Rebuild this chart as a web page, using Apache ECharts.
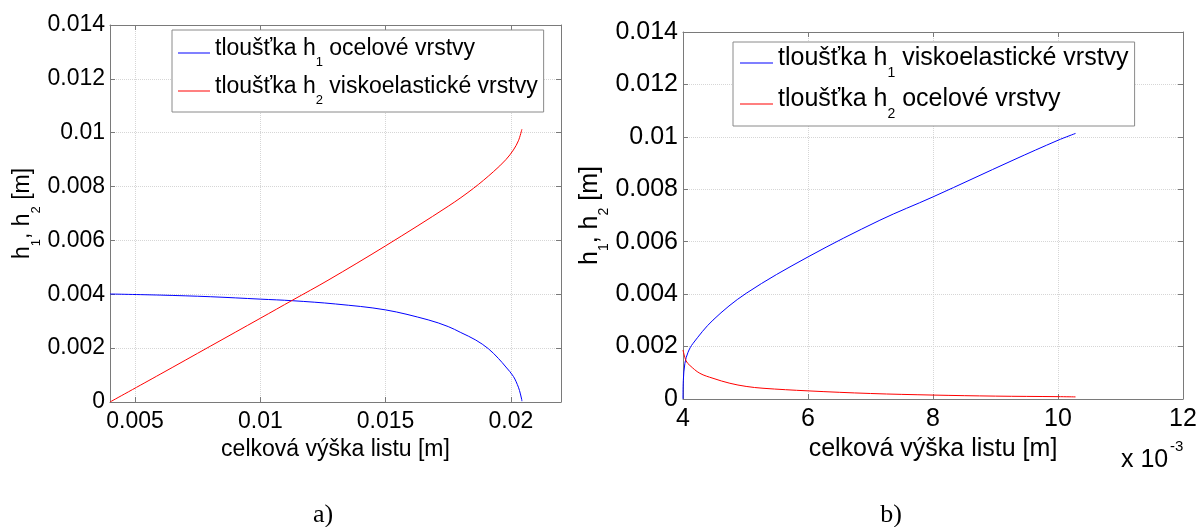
<!DOCTYPE html>
<html>
<head>
<meta charset="utf-8">
<script src="https://cdn.jsdelivr.net/npm/echarts@6/dist/echarts.min.js"></script>
<style>html,body{margin:0;padding:0;background:#fff}#c{width:1199px;height:527px}</style>
</head>
<body>
<div id="c"></div>
<script>
// ---- data ----
// a) left panel: x = celková výška listu [m]
const aH1_x = [0.004, 0.006, 0.008, 0.010, 0.0113, 0.013, 0.015, 0.0167, 0.0175, 0.018, 0.0186, 0.0191, 0.0195, 0.0198, 0.0201, 0.0203, 0.02038, 0.02043, 0.02044];
const aH1_y = [0.00401, 0.00397, 0.00391, 0.00382, 0.00376, 0.00364, 0.00342, 0.00305, 0.00280, 0.00258, 0.00230, 0.00198, 0.00162, 0.00130, 0.00095, 0.00055, 0.00030, 0.00010, 0.00003];
const aH2_x = [0.004, 0.006, 0.008, 0.010, 0.0113, 0.0127, 0.015, 0.0175, 0.0185, 0.0193, 0.0198, 0.0201, 0.0203, 0.02044];
const aH2_y = [0, 0.00103, 0.00207, 0.00311, 0.00379, 0.00452, 0.00580, 0.00727, 0.00793, 0.00855, 0.0090, 0.00936, 0.0097, 0.01013];
// b) right panel
const bH1_x = [0.004, 0.004005, 0.00403, 0.00408, 0.00416, 0.00448, 0.00501, 0.0060, 0.00715, 0.0080, 0.00928, 0.0100, 0.01028];
const bH1_y = [0, 0.0007, 0.00136, 0.00178, 0.00212, 0.00301, 0.00403, 0.00542, 0.00682, 0.00771, 0.00911, 0.00987, 0.01013];
const bH2_x = [0.004, 0.00405, 0.00411, 0.00427, 0.00448, 0.00475, 0.00501, 0.00528, 0.0060, 0.0070, 0.0080, 0.0090, 0.0100, 0.01028];
const bH2_y = [0.00187, 0.00145, 0.00128, 0.00098, 0.00079, 0.00060, 0.00048, 0.00041, 0.00031, 0.00021, 0.00015, 0.00011, 0.00009, 0.00008];

const aXTicks = [0.005, 0.01, 0.015, 0.02];
const yTicksLabel = ['0', '0.002', '0.004', '0.006', '0.008', '0.01', '0.012', '0.014'];
const bXTickLabels = ['4', '6', '8', '10', '12'];

const names = {
  aH1: 'tloušťka h1 ocelové vrstvy',
  aH2: 'tloušťka h2 viskoelastické vrstvy',
  bH1: 'tloušťka h1 viskoelastické vrstvy',
  bH2: 'tloušťka h2 ocelové vrstvy'
};

// ---- styling ----
const FONT = "'Liberation Sans', Arial, Helvetica, sans-serif";
const SERIF = "'Liberation Serif', 'Times New Roman', serif";
const AXC = '#7a7a7a';
const GRIDC = '#d6d6d6';
const BLUE = '#0000ff';
const RED = '#ff0000';

function zip(xs, ys) { return xs.map((x, i) => [x, ys[i]]); }
function richName(name) {
  const m = name.match(/^(.*h)([12])(.*)$/);
  return '{m|' + m[1] + '}{s|' + m[2] + '}{m|' + m[3] + '}';
}
function rich(fs, ss, pad) {
  return {
    m: { fontFamily: FONT, fontSize: fs, lineHeight: fs, verticalAlign: 'top', color: '#000' },
    s: { fontFamily: FONT, fontSize: ss, verticalAlign: 'top', padding: [pad, 0, 0, 0], color: '#000' }
  };
}
function yFmt(v) {
  const i = Math.round(v / 0.002);
  return yTicksLabel[i] !== undefined ? yTicksLabel[i] : '';
}
function aXFmt(v) { return String(parseFloat(v.toFixed(4))); }
function bXFmt(v) {
  const i = Math.round((v - 0.004) / 0.002);
  return bXTickLabels[i] !== undefined ? bXTickLabels[i] : '';
}

const lineAxis = { show: true, onZero: false, lineStyle: { color: AXC, width: 1 } };

function mainX(grid, min, max, extra, fs, nameGap) {
  return Object.assign({
    gridIndex: grid, type: 'value', min: min, max: max, position: 'bottom',
    axisLine: lineAxis,
    splitLine: { show: true, lineStyle: { color: GRIDC, type: 'dotted', width: 1 } },
    name: 'celková výška listu [m]', nameLocation: 'middle', nameGap: nameGap,
    nameTextStyle: { fontFamily: FONT, fontSize: fs, color: '#000' }
  }, extra);
}

const chart = echarts.init(document.getElementById('c'), null, { renderer: 'canvas' });

const option = {
  animation: false,
  backgroundColor: '#fff',
  grid: [
    { left: 110, top: 25, width: 451, height: 377, containLabel: false, outerBoundsMode: 'none' },
    { left: 683, top: 32, width: 500, height: 367, containLabel: false, outerBoundsMode: 'none' }
  ],
  xAxis: [
    mainX(0, 0.004, 0.022, {
      axisTick: { show: true, inside: true, length: 5, customValues: aXTicks, lineStyle: { color: AXC } },
      axisLabel: { customValues: aXTicks, formatter: aXFmt, color: '#000', fontSize: 23, fontFamily: FONT, margin: 8 }
    }, 23, 29),
    {
      gridIndex: 0, type: 'value', min: 0.004, max: 0.022, position: 'top',
      axisLine: lineAxis,
      axisTick: { show: true, inside: true, length: 5, customValues: aXTicks, lineStyle: { color: AXC } },
      axisLabel: { show: false }, splitLine: { show: false }
    },
    mainX(1, 0.004, 0.012, {
      interval: 0.002,
      axisTick: { show: true, inside: true, length: 5, lineStyle: { color: AXC } },
      axisLabel: { formatter: bXFmt, color: '#000', fontSize: 25, fontFamily: FONT, margin: 8 }
    }, 25, 38),
    {
      gridIndex: 1, type: 'value', min: 0.004, max: 0.012, interval: 0.002, position: 'top',
      axisLine: lineAxis,
      axisTick: { show: true, inside: true, length: 5, lineStyle: { color: AXC } },
      axisLabel: { show: false }, splitLine: { show: false }
    }
  ],
  yAxis: [
    {
      gridIndex: 0, type: 'value', min: 0, max: 0.014, interval: 0.002, position: 'left',
      axisLine: lineAxis,
      axisTick: { show: true, inside: true, length: 5, lineStyle: { color: AXC } },
      axisLabel: { formatter: yFmt, color: '#000', fontSize: 23, fontFamily: FONT, margin: 5 },
      splitLine: { show: true, lineStyle: { color: GRIDC, type: 'dotted', width: 1 } },
      name: '{m|h}{s|1}{m|, h}{s|2}{m| [m]}', nameLocation: 'middle', nameRotate: 90, nameGap: 67,
      nameTextStyle: { rich: rich(23, 13, 19) }
    },
    {
      gridIndex: 0, type: 'value', min: 0, max: 0.014, interval: 0.002, position: 'right',
      axisLine: lineAxis,
      axisTick: { show: true, inside: true, length: 5, lineStyle: { color: AXC } },
      axisLabel: { show: false }, splitLine: { show: false }
    },
    {
      gridIndex: 1, type: 'value', min: 0, max: 0.014, interval: 0.002, position: 'left',
      axisLine: lineAxis,
      axisTick: { show: true, inside: true, length: 5, lineStyle: { color: AXC } },
      axisLabel: { formatter: yFmt, color: '#000', fontSize: 25, fontFamily: FONT, margin: 5 },
      splitLine: { show: true, lineStyle: { color: GRIDC, type: 'dotted', width: 1 } },
      name: '{m|h}{s|1}{m|, h}{s|2}{m| [m]}', nameLocation: 'middle', nameRotate: 90, nameGap: 65,
      nameTextStyle: { rich: rich(25, 14, 20) }
    },
    {
      gridIndex: 1, type: 'value', min: 0, max: 0.014, interval: 0.002, position: 'right',
      axisLine: lineAxis,
      axisTick: { show: true, inside: true, length: 5, lineStyle: { color: AXC } },
      axisLabel: { show: false }, splitLine: { show: false }
    }
  ],
  legend: [
    {
      data: [names.aH1, names.aH2], orient: 'vertical', left: 172, top: 30,
      padding: [7, 6, 5, 6], itemGap: 6, itemWidth: 32, itemHeight: 1, icon: 'rect',
      backgroundColor: '#fff', borderColor: '#8a8a8a', borderWidth: 1, borderRadius: 0,
      selectedMode: false, formatter: richName,
      textStyle: { rich: rich(23, 13, 19) }
    },
    {
      data: [names.bH1, names.bH2], orient: 'vertical', left: 733, top: 42,
      padding: [4, 6, 5, 7], itemGap: 7, itemWidth: 33, itemHeight: 1, icon: 'rect',
      backgroundColor: '#fff', borderColor: '#8a8a8a', borderWidth: 1, borderRadius: 0,
      selectedMode: false, formatter: richName,
      textStyle: { rich: rich(25, 14, 20) }
    }
  ],
  series: [
    { name: names.aH1, type: 'line', xAxisIndex: 0, yAxisIndex: 0, data: zip(aH1_x, aH1_y),
      symbol: 'none', smooth: 0.35, lineStyle: { color: BLUE, width: 1 }, itemStyle: { color: BLUE } },
    { name: names.aH2, type: 'line', xAxisIndex: 0, yAxisIndex: 0, data: zip(aH2_x, aH2_y),
      symbol: 'none', smooth: 0.35, lineStyle: { color: RED, width: 1 }, itemStyle: { color: RED } },
    { name: names.bH1, type: 'line', xAxisIndex: 2, yAxisIndex: 2, data: zip(bH1_x, bH1_y),
      symbol: 'none', smooth: 0.35, lineStyle: { color: BLUE, width: 1 }, itemStyle: { color: BLUE } },
    { name: names.bH2, type: 'line', xAxisIndex: 2, yAxisIndex: 2, data: zip(bH2_x, bH2_y),
      symbol: 'none', smooth: 0.35, lineStyle: { color: RED, width: 1 }, itemStyle: { color: RED } }
  ],
  graphic: [
    { type: 'text', left: 1121, top: 448, style: { text: 'x 10', font: '25px ' + FONT, fill: '#000' } },
    { type: 'text', left: 1170, top: 439, style: { text: '-3', font: '15px ' + FONT, fill: '#000' } },
    { type: 'text', x: 323, y: 515, style: { text: 'a)', font: '26px ' + SERIF, fill: '#000', textAlign: 'center', textVerticalAlign: 'middle' } },
    { type: 'text', x: 891, y: 515, style: { text: 'b)', font: '26px ' + SERIF, fill: '#000', textAlign: 'center', textVerticalAlign: 'middle' } }
  ]
};
chart.setOption(option);
</script>
</body>
</html>
